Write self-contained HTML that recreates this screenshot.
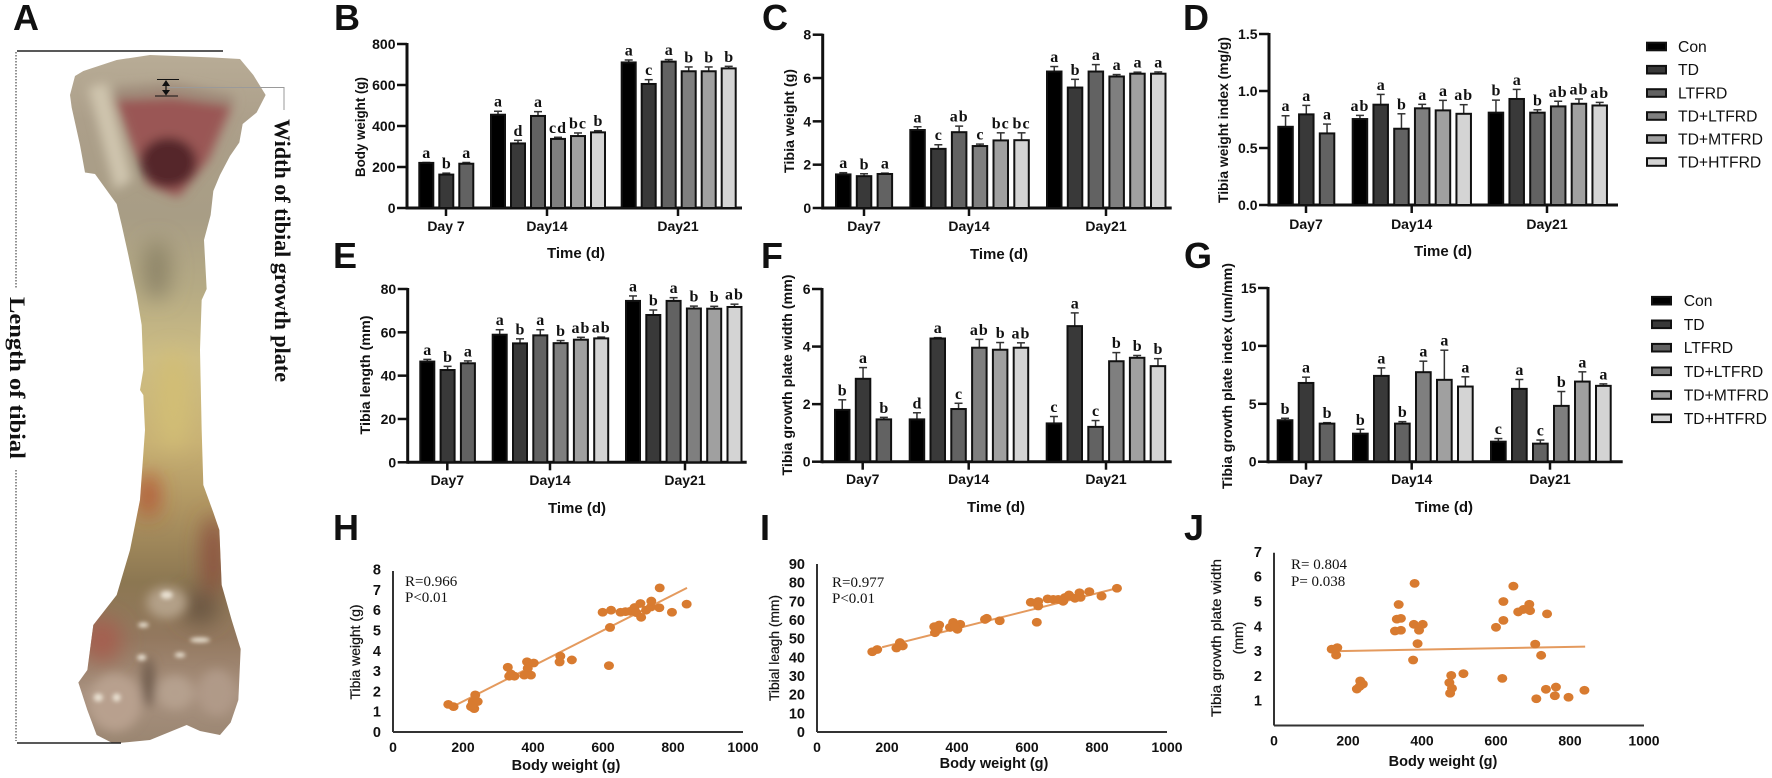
<!DOCTYPE html>
<html lang="en">
<head>
<meta charset="utf-8">
<title>Tibia growth figure</title>
<style>
html,body{margin:0;padding:0;background:#fff;}
svg{display:block;}
text{font-family:"Liberation Sans",sans-serif;fill:#111;}
.serif{font-family:"Liberation Serif",serif;}
</style>
</head>
<body>
<svg id="figure" xmlns="http://www.w3.org/2000/svg" width="1772" height="778" viewBox="0 0 1772 778">
<defs>
  <linearGradient id="boneGrad" x1="0" y1="0" x2="0" y2="1">
    <stop offset="0" stop-color="#b9ad97"/>
    <stop offset="0.1" stop-color="#ac9f8a"/>
    <stop offset="0.24" stop-color="#a89d85"/>
    <stop offset="0.34" stop-color="#b5aa84"/>
    <stop offset="0.44" stop-color="#cdbd84"/>
    <stop offset="0.56" stop-color="#c8b174"/>
    <stop offset="0.66" stop-color="#ad9360"/>
    <stop offset="0.76" stop-color="#8c7752"/>
    <stop offset="0.84" stop-color="#93785f"/>
    <stop offset="0.92" stop-color="#a8917f"/>
    <stop offset="1" stop-color="#98846f"/>
  </linearGradient>
  <clipPath id="boneClip">
    <path d="M210,190 L225,152 L250,142 L350,120 L450,110 L640,115 L720,118 L760,150 L797,190 L770,225 L728,248 L718,285 L690,312 L660,350 L640,382 L632,430 L612,480 L620,578 L605,600 L600,700 L605,860 L610,970 L640,1025 L658,1060 L665,1170 L695,1240 L722,1298 L715,1400 L692,1445 L660,1470 L600,1462 L560,1450 L450,1480 L340,1487 L290,1470 L262,1420 L235,1365 L262,1340 L280,1250 L350,1190 L390,1100 L420,1000 L435,860 L430,790 L420,780 L430,740 L425,650 L410,590 L385,510 L365,450 L350,408 L285,348 L255,345 L240,290 L215,215 Z"/>
  </clipPath>
  <filter id="blurBig" x="-60%" y="-60%" width="220%" height="220%"><feGaussianBlur stdDeviation="32 20"/></filter>
  <filter id="blurMid" x="-60%" y="-60%" width="220%" height="220%"><feGaussianBlur stdDeviation="16 10"/></filter>
  <filter id="blurFine" x="-60%" y="-60%" width="220%" height="220%"><feGaussianBlur stdDeviation="6 4"/></filter>
</defs>

<g id="panel-a">
  <g transform="scale(0.33333,0.5)">
    <g clip-path="url(#boneClip)">
      <rect x="200" y="100" width="610" height="1400" fill="url(#boneGrad)"/>
      <g filter="url(#blurBig)">
        <ellipse cx="470" cy="540" rx="40" ry="60" fill="#8d8468"/>
        <ellipse cx="445" cy="990" rx="26" ry="45" fill="#b5482c"/>
        <ellipse cx="640" cy="1110" rx="30" ry="80" fill="#8a4a3a"/>
        <ellipse cx="600" cy="1215" rx="55" ry="35" fill="#6a5642"/>
        <ellipse cx="305" cy="1280" rx="60" ry="45" fill="#a55f4f"/>
        <ellipse cx="520" cy="800" rx="50" ry="100" fill="#d2be74"/>
      </g>
      <g filter="url(#blurMid)">
        <path d="M345,175 L520,165 L700,190 L700,215 L340,205 Z" fill="#a08d7c"/>
        <path d="M345,200 L520,195 L695,212 L625,320 L535,395 L445,370 L395,290 Z" fill="#9a5755"/>
        <ellipse cx="505" cy="325" rx="85" ry="50" fill="#54262a"/>
        <path d="M265,175 L320,165 L395,360 L345,380 Z" fill="#cfc5ae"/>
        <ellipse cx="345" cy="1405" rx="80" ry="58" fill="#b8a08e"/>
        <ellipse cx="525" cy="1385" rx="55" ry="34" fill="#b5a08e"/>
        <ellipse cx="650" cy="1385" rx="55" ry="46" fill="#b09a88"/>
        <ellipse cx="445" cy="1365" rx="18" ry="50" fill="#6d5a4c"/>
        <ellipse cx="500" cy="1205" rx="60" ry="32" fill="#b3a088"/>
      </g>
      <g filter="url(#blurFine)" fill="#e9e1d2">
        <ellipse cx="500" cy="1190" rx="18" ry="8"/>
        <ellipse cx="430" cy="1250" rx="16" ry="5"/>
        <ellipse cx="600" cy="1280" rx="30" ry="5"/>
        <ellipse cx="540" cy="1310" rx="16" ry="5"/>
        <ellipse cx="425" cy="1315" rx="14" ry="6"/>
        <ellipse cx="295" cy="1395" rx="14" ry="8"/>
        <ellipse cx="350" cy="1395" rx="12" ry="8"/>
      </g>
    </g>
  </g>
  <line x1="17" y1="51" x2="223" y2="51" stroke="#222" stroke-width="1.6"/>
  <line x1="17" y1="743" x2="121" y2="743" stroke="#222" stroke-width="1.6"/>
  <line x1="16" y1="52" x2="16" y2="289" stroke="#777" stroke-width="1.6" stroke-dasharray="1.5 1.5"/>
  <line x1="16" y1="470" x2="16" y2="741" stroke="#777" stroke-width="1.6" stroke-dasharray="1.5 1.5"/>
  <line x1="157" y1="79.5" x2="179" y2="79.5" stroke="#111" stroke-width="1"/>
  <line x1="155" y1="96" x2="178" y2="96" stroke="#111" stroke-width="1"/>
  <path d="M166,80 L162,86 L165.4,86 L165.4,90 L162,90 L166,95.5 L170,90 L166.6,90 L166.6,86 L170,86 Z" fill="#111"/>
  <path d="M168,87.5 L284,87.5 L284,110" fill="none" stroke="#9a9a9a" stroke-width="1"/>
  <text class="serif" transform="translate(275,119) rotate(90)" font-size="22" font-weight="bold" textLength="263" lengthAdjust="spacingAndGlyphs">Width of tibial growth plate</text>
  <text class="serif" transform="translate(10,297) rotate(90)" font-size="22" font-weight="bold" textLength="162" lengthAdjust="spacingAndGlyphs">Length of tibial</text>
</g>

<g font-weight="bold" font-size="36">
  <text x="13" y="30">A</text>
  <text x="334" y="30">B</text>
  <text x="762" y="30">C</text>
  <text x="1183" y="30">D</text>
  <text x="333" y="268">E</text>
  <text x="761" y="268">F</text>
  <text x="1184" y="268">G</text>
  <text x="333" y="540">H</text>
  <text x="760" y="540">I</text>
  <text x="1184" y="540">J</text>
</g>

<g id="charts"></g>
</svg>

<script>
// ---------- shared categories ----------
const legendLabels = ['Con', 'TD', 'LTFRD', 'TD+LTFRD', 'TD+MTFRD', 'TD+HTFRD'];
const dayCategories = ['Day7', 'Day14', 'Day21'];
const dayCategoriesB = ['Day 7', 'Day14', 'Day21'];
const scatterXTickLabels = ['0', '200', '400', '600', '800', '1000'];

// ---------- B: body weight ----------
const bTickLabels = ['0', '200', '400', '600', '800'];
const bValues = [[220, 163, 216], [455, 315, 449, 337, 351, 369], [710, 605, 714, 667, 667, 681]];
const bErrors = [[2, 7, 6], [17, 15, 21, 8, 15, 8], [12, 21, 10, 21, 21, 10]];
const bLetters = [['a', 'b', 'a'], ['a', 'd', 'a', 'cd', 'bc', 'b'], ['a', 'c', 'a', 'b', 'b', 'b']];

// ---------- C: tibia weight ----------
const cTickLabels = ['0', '2', '4', '6', '8'];
const cValues = [[1.55, 1.47, 1.57], [3.6, 2.73, 3.5, 2.86, 3.12, 3.13], [6.3, 5.56, 6.3, 6.07, 6.2, 6.2]];
const cErrors = [[0.08, 0.11, 0.04], [0.15, 0.19, 0.28, 0.09, 0.35, 0.34], [0.23, 0.38, 0.32, 0.09, 0.07, 0.08]];
const cLetters = [['a', 'b', 'a'], ['a', 'c', 'ab', 'c', 'bc', 'bc'], ['a', 'b', 'a', 'a', 'a', 'a']];

// ---------- D: tibia weight index ----------
const dTickLabels = ['0.0', '0.5', '1.0', '1.5'];
const dValues = [[0.686, 0.795, 0.628], [0.754, 0.88, 0.669, 0.848, 0.83, 0.8], [0.81, 0.93, 0.81, 0.865, 0.888, 0.873]];
const dErrors = [[0.097, 0.079, 0.082], [0.032, 0.09, 0.131, 0.035, 0.088, 0.08], [0.11, 0.084, 0.025, 0.045, 0.042, 0.027]];
const dLetters = [['a', 'a', 'a'], ['ab', 'a', 'b', 'a', 'a', 'ab'], ['b', 'a', 'b', 'ab', 'ab', 'ab']];

// ---------- E: tibia length ----------
const eTickLabels = ['0', '20', '40', '60', '80'];
const eValues = [[46.5, 42.6, 45.7], [58.9, 54.9, 58.6, 55, 56.6, 57.2], [74.5, 68, 74.5, 71, 70.9, 71.7]];
const eErrors = [[1, 1.7, 1.1], [2.3, 2.1, 2.6, 1.2, 1.1, 0.6], [2.3, 2.3, 1.5, 1.1, 1.1, 1.3]];
const eLetters = [['a', 'b', 'a'], ['a', 'b', 'a', 'b', 'ab', 'ab'], ['a', 'b', 'a', 'b', 'b', 'ab']];

// ---------- F: growth plate width ----------
const fTickLabels = ['0', '2', '4', '6'];
const fValues = [[1.8, 2.88, 1.47], [1.47, 4.28, 1.83, 3.96, 3.89, 3.96], [1.33, 4.71, 1.21, 3.49, 3.61, 3.32]];
const fErrors = [[0.35, 0.39, 0.07], [0.23, 0.03, 0.2, 0.29, 0.25, 0.17], [0.24, 0.46, 0.22, 0.3, 0.08, 0.26]];
const fLetters = [['b', 'a', 'b'], ['d', 'a', 'c', 'ab', 'b', 'ab'], ['c', 'a', 'c', 'b', 'b', 'b']];

// ---------- G: growth plate index ----------
const gTickLabels = ['0', '5', '10', '15'];
const gValues = [[3.58, 6.8, 3.29], [2.42, 7.41, 3.29, 7.73, 7.07, 6.49], [1.73, 6.29, 1.56, 4.82, 6.92, 6.55]];
const gErrors = [[0.17, 0.5, 0.08], [0.38, 0.69, 0.17, 0.95, 2.56, 0.84], [0.27, 0.81, 0.31, 1.24, 0.84, 0.17]];
const gLetters = [['b', 'a', 'b'], ['b', 'a', 'b', 'a', 'a', 'a'], ['c', 'a', 'c', 'b', 'a', 'a']];

// ---------- H: tibia weight vs body weight ----------
const hYTickLabels = ['0', '1', '2', '3', '4', '5', '6', '7', '8'];
const hBodyWeight = [158, 173, 223, 228, 242, 235, 232, 225, 328, 337, 347, 332, 383, 402, 385, 375, 394, 478, 476, 511, 617, 620, 599, 623, 650, 664, 678, 690, 695, 707, 709, 723, 737, 738, 761, 762, 797, 839];
const hTibiaWeight = [1.36, 1.25, 1.25, 1.5, 1.5, 1.83, 1.15, 1.3, 3.19, 2.86, 2.75, 2.75, 3.46, 3.4, 3.14, 2.8, 2.8, 3.74, 3.45, 3.55, 3.27, 5.15, 5.9, 6.0, 5.9, 5.93, 5.95, 6.13, 5.88, 6.33, 5.65, 6.0, 6.16, 6.45, 6.12, 7.1, 5.9, 6.3];
const hTrendX = [165, 840];
const hTrendY = [1.2, 7.1];

// ---------- I: tibia length vs body weight ----------
const iYTickLabels = ['0', '10', '20', '30', '40', '50', '60', '70', '80', '90'];
const iBodyWeight = [158, 172, 227, 237, 245, 337, 335, 349, 345, 389, 380, 401, 409, 394, 485, 480, 522, 611, 632, 632, 628, 659, 675, 689, 703, 708, 720, 704, 721, 737, 750, 753, 778, 813, 857];
const iTibiaLength = [43, 44.2, 45, 47.9, 46.1, 53.2, 56.4, 57.3, 55, 58.7, 56, 55, 57.7, 56.4, 60.9, 60.3, 59.6, 69.5, 69.9, 67.5, 58.8, 71.3, 71, 71, 70, 72, 73.4, 70.2, 72.9, 71.6, 74.6, 72.1, 75.2, 72.8, 77];
const iTrendX = [186, 857];
const iTrendY = [45.4, 77];

// ---------- J: plate width vs body weight ----------
const jYTickLabels = ['1', '2', '3', '4', '5', '6', '7'];
const jBodyWeight = [156, 171, 168, 224, 233, 240, 231, 337, 332, 343, 327, 343, 380, 378, 402, 392, 388, 376, 479, 512, 474, 481, 476, 647, 620, 690, 674, 660, 692, 738, 620, 600, 706, 722, 617, 735, 762, 759, 709, 796, 839];
const jPlateWidth = [3.08, 3.14, 2.84, 1.47, 1.8, 1.67, 1.57, 4.88, 4.29, 4.32, 3.81, 3.84, 5.73, 4.08, 4.08, 3.84, 3.3, 2.64, 2.02, 2.09, 1.73, 1.5, 1.3, 5.62, 5.0, 4.89, 4.68, 4.58, 4.63, 4.5, 4.24, 3.96, 3.28, 2.83, 1.9, 1.46, 1.55, 1.2, 1.08, 1.14, 1.42];
const jTrendX = [174, 841];
const jTrendY = [3.0, 3.18];

const SVG_NS = 'http://www.w3.org/2000/svg';
const root = document.getElementById('charts');
const barFills = ['#000000', '#393939', '#626262', '#7f7f7f', '#a0a0a0', '#d4d4d4'];
const DOT_COLOR = '#d87b30';

function make(parent, tag, attrs, content) {
  const node = document.createElementNS(SVG_NS, tag);
  for (const key in attrs) node.setAttribute(key, attrs[key]);
  if (content !== undefined) node.textContent = content;
  parent.appendChild(node);
  return node;
}

function drawBarChart(p) {
  const g = make(root, 'g', {});
  
  
  const yScale = v => p.y0 - (v / p.max) * (p.y0 - p.yTop);

  const yAxis = make(g, 'line', {x1: p.axisX, x2: p.axisX, y1: p.yTop - 1, y2: p.y0 + 1.5, stroke: '#111', 'stroke-width': 3});
  
  
  const xAxis = make(g, 'line', {x1: p.axisX, x2: p.xEnd, y1: p.y0, y2: p.y0, stroke: '#111', 'stroke-width': 3});
  
  

  p.tickLabels.forEach(label => {
    const ty = yScale(Number(label));
    const tick = make(g, 'line', {x1: p.axisX - 10, x2: p.axisX, y1: ty, y2: ty, stroke: '#111', 'stroke-width': 2.5});
    
    
    const tickText = make(g, 'text', {x: p.axisX - 11.5, y: ty + 5, 'text-anchor': 'end', 'font-size': 14, 'font-weight': 'bold'}, label);
    
    
  });

  p.values.forEach((groupValues, gi) => {
    groupValues.forEach((value, bi) => {
      const x = p.starts[gi] + bi * p.pitch;
      const cx = x + p.barW / 2;
      const top = yScale(value);
      const errTop = yScale(value + p.errors[gi][bi]);
      const err = make(g, 'line', {x1: cx, x2: cx, y1: top, y2: errTop, stroke: '#333', 'stroke-width': 1.5});
      
      
      const cap = make(g, 'line', {x1: cx - 4, x2: cx + 4, y1: errTop, y2: errTop, stroke: '#333', 'stroke-width': 1.5});
      
      
      const bar = make(g, 'rect', {x: x + 1, y: top, width: p.barW - 2, height: Math.max(0, p.y0 - top), fill: barFills[bi], stroke: '#111', 'stroke-width': 2});
      
      
      const letter = make(g, 'text', {x: cx, y: errTop - 4.5, 'text-anchor': 'middle', 'font-size': 16, 'font-weight': 'bold', class: 'serif', 'letter-spacing': p.letters[gi][bi].length > 1 ? 1 : 0}, p.letters[gi][bi]);
      
      
    });
    const tickX = p.tickXs[gi];
    const xTick = make(g, 'line', {x1: tickX, x2: tickX, y1: p.y0, y2: p.y0 + 8, stroke: '#111', 'stroke-width': 2.5});
    
    
    const catText = make(g, 'text', {x: tickX, y: p.catY, 'text-anchor': 'middle', 'font-size': 14, 'font-weight': 'bold'}, p.categories[gi]);
    
    
  });

  const xTitle = make(g, 'text', {x: p.timeX, y: p.timeY, 'text-anchor': 'middle', 'font-size': 15, 'font-weight': 'bold'}, 'Time (d)');
  
  
  const yTitle = make(g, 'text', {transform: 'translate(' + (p.titleX + 5) + ',' + p.titleY + ') rotate(-90)', 'text-anchor': 'middle', 'font-size': 14, 'font-weight': 'bold', textLength: p.titleLen, lengthAdjust: 'spacingAndGlyphs'}, p.title);
  
  
}

function drawScatter(p) {
  const g = make(root, 'g', {});
  
  
  const xScale = v => p.axisX + v * p.xPerUnit;
  const yScale = v => p.y0 - v * p.yPerUnit;

  const yAxis = make(g, 'line', {x1: p.axisX, x2: p.axisX, y1: p.yTop, y2: p.y0, stroke: '#333', 'stroke-width': 2});
  
  
  const xAxis = make(g, 'line', {x1: p.axisX, x2: xScale(1000), y1: p.y0, y2: p.y0, stroke: '#333', 'stroke-width': 2});
  
  

  p.yTickLabels.forEach(label => {
    const tickText = make(g, 'text', {x: p.axisX - 12, y: yScale(Number(label)) + 5, 'text-anchor': 'end', 'font-size': 14.5, 'font-weight': 'bold', fill: '#222'}, label);
    
    
  });
  p.xTickLabels.forEach(label => {
    const tickText = make(g, 'text', {x: xScale(Number(label)), y: p.y0 + 20, 'text-anchor': 'middle', 'font-size': 14, 'font-weight': 'bold', fill: '#222'}, label);
    
    
  });

  const trend = make(g, 'line', {x1: xScale(p.trendX[0]), y1: yScale(p.trendY[0]), x2: xScale(p.trendX[1]), y2: yScale(p.trendY[1]), stroke: '#e49a5e', 'stroke-width': 2});
  
  

  p.xs.forEach((xv, i) => {
    const dot = make(g, 'ellipse', {cx: xScale(xv), cy: yScale(p.ys[i]), rx: 5, ry: 4.4, fill: DOT_COLOR});
    
    
  });

  const stat1 = make(g, 'text', {x: p.statX, y: p.statY, class: 'serif', 'font-size': 15, fill: '#444'}, p.stats[0]);
  
  
  const stat2 = make(g, 'text', {x: p.statX, y: p.statY + p.statGap, class: 'serif', 'font-size': 15, fill: '#444'}, p.stats[1]);
  
  

  const xTitle = make(g, 'text', {x: p.xTitleX, y: p.xTitleY, 'text-anchor': 'middle', 'font-size': 14.5, 'font-weight': 'bold', fill: '#222'}, 'Body weight (g)');
  
  
  const yTitle = make(g, 'text', {transform: 'translate(' + (p.titleX + 5) + ',' + p.titleY + ') rotate(-90)', 'text-anchor': 'middle', 'font-size': 14, fill: '#222', stroke: '#222', 'stroke-width': 0.25, textLength: p.titleLen, lengthAdjust: 'spacingAndGlyphs'}, p.title);
  
  
  if (p.title2) {
    const yTitle2 = make(g, 'text', {transform: 'translate(' + (p.title2X + 5) + ',' + p.titleY + ') rotate(-90)', 'text-anchor': 'middle', 'font-size': 14, fill: '#222', stroke: '#222', 'stroke-width': 0.25}, p.title2);
    
    
  }
}

function drawLegend(name, swatchX, textX, ys) {
  const g = make(root, 'g', {});
  
  
  legendLabels.forEach((label, i) => {
    const swatch = make(g, 'rect', {x: swatchX + 1, y: ys[i] - 3.8, width: 19, height: 7.6, fill: barFills[i], stroke: '#111', 'stroke-width': 2});
    
    
    const entry = make(g, 'text', {x: textX, y: ys[i] + 5.5, 'font-size': 15.7, fill: '#222'}, label);
    
    
  });
}

drawBarChart({name: 'body-weight-chart', axisX: 407, yTop: 44, y0: 208, max: 800, tickLabels: bTickLabels, values: bValues, errors: bErrors, letters: bLetters, categories: dayCategoriesB,
  starts: [418.3, 490, 620.7], pitch: 20, barW: 16, xEnd: 742, tickXs: [446, 547, 678], catY: 231, timeX: 576, timeY: 258, title: 'Body weight (g)', titleX: 360, titleY: 127, titleLen: 100});
drawBarChart({name: 'tibia-weight-chart', axisX: 822.7, yTop: 34.7, y0: 208, max: 8, tickLabels: cTickLabels, values: cValues, errors: cErrors, letters: cLetters, categories: dayCategories,
  starts: [835, 909.3, 1046], pitch: 20.8, barW: 16.5, xEnd: 1171.7, tickXs: [864, 969, 1106], catY: 231, timeX: 999, timeY: 259, title: 'Tibia weight (g)', titleX: 789, titleY: 121, titleLen: 104});
drawBarChart({name: 'tibia-weight-index-chart', axisX: 1269, yTop: 34, y0: 205, max: 1.5, tickLabels: dTickLabels, values: dValues, errors: dErrors, letters: dLetters, categories: dayCategories,
  starts: [1277.3, 1351.7, 1487.7], pitch: 20.75, barW: 16.5, xEnd: 1618, tickXs: [1306, 1411.7, 1547], catY: 229, timeX: 1443, timeY: 256, title: 'Tibia weight index (mg/g)', titleX: 1223, titleY: 120, titleLen: 166});
drawBarChart({name: 'tibia-length-chart', axisX: 407.7, yTop: 289, y0: 462.3, max: 80, tickLabels: eTickLabels, values: eValues, errors: eErrors, letters: eLetters, categories: dayCategories,
  starts: [419.3, 491.7, 625], pitch: 20.3, barW: 16, xEnd: 746.7, tickXs: [447.3, 550, 685], catY: 485, timeX: 577, timeY: 513, title: 'Tibia length (mm)', titleX: 365, titleY: 375, titleLen: 119});
drawBarChart({name: 'growth-plate-width-chart', axisX: 822, yTop: 289, y0: 461.7, max: 6, tickLabels: fTickLabels, values: fValues, errors: fErrors, letters: fLetters, categories: dayCategories,
  starts: [834, 908.7, 1045.7], pitch: 20.8, barW: 16.5, xEnd: 1171.7, tickXs: [862.7, 968.7, 1106], catY: 484, timeX: 996, timeY: 512, title: 'Tibia growth plate width (mm)', titleX: 787, titleY: 375, titleLen: 201});
drawBarChart({name: 'growth-plate-index-chart', axisX: 1268, yTop: 288, y0: 461.7, max: 15, tickLabels: gTickLabels, values: gValues, errors: gErrors, letters: gLetters, categories: dayCategories,
  starts: [1276.7, 1352, 1490], pitch: 21, barW: 16.7, xEnd: 1622.7, tickXs: [1306, 1411.7, 1550], catY: 484, timeX: 1444, timeY: 512, title: 'Tibia growth plate index (um/mm)', titleX: 1227, titleY: 376, titleLen: 226});

drawLegend('legend-top', 1646, 1678, [46.5, 69.7, 93, 116, 139, 162]);
drawLegend('legend-bottom', 1651, 1683.7, [300.7, 324.3, 347.7, 371.3, 395, 418.3]);

drawScatter({name: 'tibia-weight-scatter', axisX: 393, y0: 732, yTop: 571, xPerUnit: 0.35, yPerUnit: 20.3, xTickLabels: scatterXTickLabels, yTickLabels: hYTickLabels, xs: hBodyWeight, ys: hTibiaWeight, trendX: hTrendX, trendY: hTrendY,
  stats: ['R=0.966', 'P<0.01'], statX: 405, statY: 586, statGap: 16, xTitleX: 566, xTitleY: 770, title: 'Tibia weight (g)', titleX: 355, titleY: 652, titleLen: 95});
drawScatter({name: 'tibial-length-scatter', axisX: 817, y0: 732, yTop: 564, xPerUnit: 0.35, yPerUnit: 1.867, xTickLabels: scatterXTickLabels, yTickLabels: iYTickLabels, xs: iBodyWeight, ys: iTibiaLength, trendX: iTrendX, trendY: iTrendY,
  stats: ['R=0.977', 'P<0.01'], statX: 832, statY: 587, statGap: 16, xTitleX: 994, xTitleY: 768, title: 'Tibial leagh (mm)', titleX: 774, titleY: 648, titleLen: 106});
drawScatter({name: 'growth-plate-width-scatter', axisX: 1274, y0: 725.5, yTop: 552.7, xPerUnit: 0.37, yPerUnit: 24.8, xTickLabels: scatterXTickLabels, yTickLabels: jYTickLabels, xs: jBodyWeight, ys: jPlateWidth, trendX: jTrendX, trendY: jTrendY,
  stats: ['R= 0.804', 'P= 0.038'], statX: 1291, statY: 569, statGap: 17, xTitleX: 1443, xTitleY: 766, title: 'Tibia growth plate width', titleX: 1216, titleY: 638, titleLen: 158, title2: '(mm)', title2X: 1238});
</script>
</body>
</html>
